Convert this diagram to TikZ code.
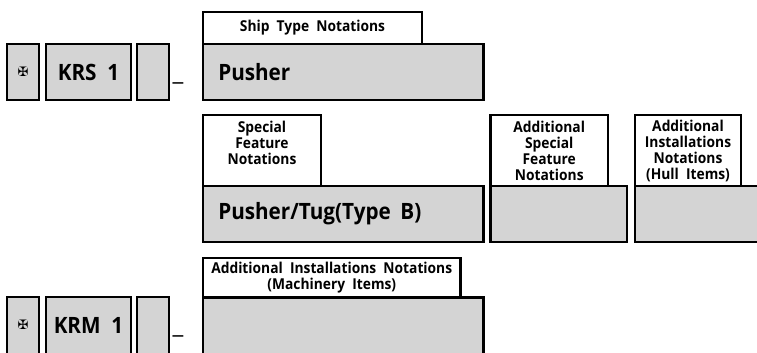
\documentclass[tikz,border=0pt]{standalone}
\usepackage{fontspec}
\usepackage{tikz}
\setmainfont{Open Sans}[BoldFont={Open Sans Bold}, BoldFeatures={FakeStretch=0.92}]
\newfontfamily\crossfont{DejaVu Sans}
\usetikzlibrary{positioning}
\definecolor{mgrey}{rgb}{0.83, 0.83, 0.83}
\tikzset{markbox/.style = {draw, line width = 2.6, fill = mgrey, anchor = north west, inner sep = 0, outer sep = 0,
                           font = \bfseries\fontsize{22.5}{26}\selectfont}}
\tikzset{notebox/.style = {draw, line width = 2.6, fill = white, anchor = north west, inner sep = 0, outer sep = 0,
                           align = center, font = \bfseries\fontsize{15}{16}\selectfont}}
\tikzset{dashsign/.style = {font = \fontsize{24}{24}\selectfont, inner sep = 0}}
\newcommand{\crossmark}{\crossfont\fontsize{13}{13}\selectfont ✠}
\begin{document}
\begin{tikzpicture}[x = 1pt, y = -1pt]
    \useasboundingbox (0, 0) rectangle (757, 353);
    \clip (0, 0) rectangle (757, 353);

    % upper row
    \node [markbox, minimum width = 32, minimum height = 56] (krscross) at (7, 44) {\crossmark};
    \node [markbox, minimum width = 85, minimum height = 56] (krs) at (46, 44) {KRS\ \ 1};
    \node [markbox, minimum width = 32, minimum height = 56] (krsblank) at (137, 44) {};
    \node [dashsign] (krsdash) at (178, 82) {\_};
    \node [notebox, minimum width = 219, minimum height = 32] (shipnote) at (203, 12) {Ship\ \ Type\ \ Notations};
    \node [markbox, minimum width = 280.5, minimum height = 56, text width = 250, align = left] (pusher) at (203, 44) {Pusher};

    % middle row
    \node [markbox, minimum width = 280.5, minimum height = 56, text width = 250, align = left] (tug) at (203, 186) {Pusher/Tug(Type\ \kern2pt B)};
    \node [notebox, minimum width = 118, minimum height = 71, anchor = south west] (specialnote) at (203, 186) {Special\\Feature\\Notations\\};
    \node [markbox, minimum width = 136.5, minimum height = 56] (addspecial) at (490.5, 186) {};
    \node [notebox, minimum width = 117.5, minimum height = 71, anchor = south west] (addspecialnote) at (490.5, 186) {Additional\\Special\\Feature\\Notations};
    \node [markbox, minimum width = 130, minimum height = 56] (addhull) at (635, 186) {};
    \node [notebox, minimum width = 106, minimum height = 71, anchor = south west] (addhullnote) at (635, 186) {Additional\\Installations\\Notations\\(Hull\ \ Items)};

    % lower row
    \node [markbox, minimum width = 32, minimum height = 70] (krmcross) at (7, 297) {\raisebox{14pt}{\crossmark}};
    \node [markbox, minimum width = 85, minimum height = 70] (krm) at (46, 297) {\raisebox{14pt}{KRM\ \ 1}};
    \node [markbox, minimum width = 32, minimum height = 70] (krmblank) at (137, 297) {};
    \node [dashsign] (krmdash) at (178, 335) {\_};
    \node [markbox, minimum width = 280.5, minimum height = 70] (addmachinery) at (203, 297.5) {};
    \node [notebox, minimum width = 257.5, minimum height = 39.5, anchor = south west] (machinerynote) at (203, 297.5) {Additional\ \ Installations\ \ Notations\\(Machinery\ \ Items)};
  \end{tikzpicture}
\end{document}
